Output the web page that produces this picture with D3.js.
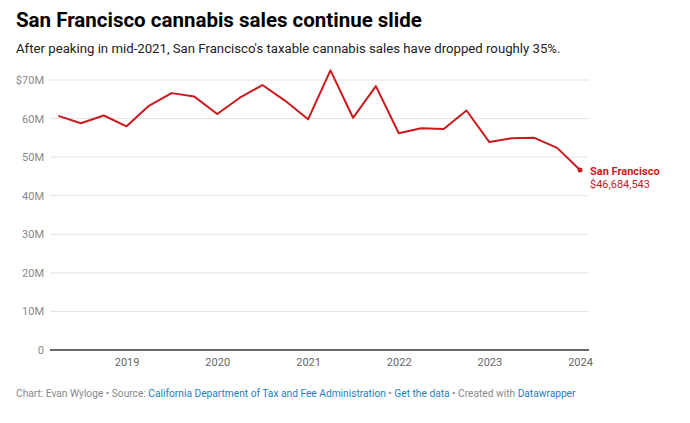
<!DOCTYPE html>
<html><head><meta charset="utf-8">
<script src="https://cdn.jsdelivr.net/npm/d3@7"></script>
<style>
body{margin:0;background:#fff;font-family:Roboto,"Noto Sans",sans-serif;}
</style></head>
<body>
<svg id="c" width="690" height="423"></svg>
<script>
const dates = ["2018-04-01","2018-07-01","2018-10-01","2019-01-01","2019-04-01","2019-07-01","2019-10-01","2020-01-01","2020-04-01","2020-07-01","2020-10-01","2021-01-01","2021-04-01","2021-07-01","2021-10-01","2022-01-01","2022-04-01","2022-07-01","2022-10-01","2023-01-01","2023-04-01","2023-07-01","2023-10-01","2024-01-01"];
const sales = [60.7,58.8,60.8,58.0,63.3,66.6,65.7,61.2,65.4,68.7,64.6,59.8,72.5,60.2,68.4,56.2,57.5,57.3,62.1,53.9,54.9,55.0,52.4,46.684543].map(v=>v*1e6);
const yTicks = [0,10e6,20e6,30e6,40e6,50e6,60e6,70e6];
const yTickLabels = ["0","10M","20M","30M","40M","50M","60M","$70M"];
const xTicks = ["2019","2020","2021","2022","2023","2024"];
const seriesName = "San Francisco";
const title = "San Francisco cannabis sales continue slide";
const subtitle = "After peaking in mid-2021, San Francisco's taxable cannabis sales have dropped roughly 35%.";

const parse = d3.timeParse("%Y-%m-%d");
const data = dates.map((d,i)=>({date:parse(d), value:sales[i]}));
const red = "#c91a1e";
const svg = d3.select("#c");

svg.append("text").attr("x",16).attr("y",27).attr("font-size",20.5).attr("font-weight",700).attr("fill","#000").text(title);
svg.append("text").attr("x",16).attr("y",53).attr("font-size",13.2).attr("fill","#222").text(subtitle);

const x = d3.scaleTime().domain([data[0].date, data[data.length-1].date]).range([58.3,580]);
const y = d3.scaleLinear().domain([0,70e6]).range([350,80]);
const gridL = 50, gridR = 589;

const g = svg.append("g");
const yAxis = d3.axisLeft(y).tickValues(yTicks).tickFormat((d,i)=>yTickLabels[i]).tickSize(0).tickPadding(6);
const ya = g.append("g").attr("transform",`translate(${gridL},0)`).call(yAxis);
ya.select(".domain").remove();
ya.selectAll("text").attr("font-size",11).attr("fill","#888").attr("font-family","Roboto").attr("x",-6);
g.append("g").selectAll("line").data(yTicks.filter(d=>d>0)).join("line")
  .attr("x1",gridL).attr("x2",gridR).attr("y1",d=>y(d)).attr("y2",d=>y(d))
  .attr("stroke","#e3e3e3").attr("stroke-width",1);
g.append("line").attr("x1",gridL).attr("x2",gridR).attr("y1",y(0)).attr("y2",y(0)).attr("stroke","#333").attr("stroke-width",1.5);

const xAxis = d3.axisBottom(x).tickValues(xTicks.map(t=>parse(t+"-01-01"))).tickFormat(d3.timeFormat("%Y")).tickSize(0).tickPadding(8);
const xa = g.append("g").attr("transform",`translate(0,${y(0)})`).call(xAxis);
xa.select(".domain").remove();
xa.selectAll("text").attr("font-size",11).attr("fill","#666").attr("font-family","Roboto");

const line = d3.line().x(d=>x(d.date)).y(d=>y(d.value));
g.append("path").datum(data).attr("d",line).attr("fill","none").attr("stroke",red).attr("stroke-width",2).attr("stroke-linejoin","round");
const last = data[data.length-1];
g.append("circle").attr("cx",x(last.date)).attr("cy",y(last.value)).attr("r",2.5).attr("fill",red);
g.append("text").attr("x",590).attr("y",175).attr("font-size",11).attr("font-weight",700).attr("fill",red).text(seriesName);
g.append("text").attr("x",590).attr("y",188).attr("font-size",11).attr("fill",red).text("$"+d3.format(",")(Math.round(last.value)));

const foot = svg.append("text").attr("x",16).attr("y",397).attr("font-size",10.2).attr("fill","#888");
const parts = [["Chart: Evan Wyloge • Source: ","#888"],["California Department of Tax and Fee Administration","#1a7fbf"],[" • ","#888"],["Get the data","#1a7fbf"],[" • Created with ","#888"],["Datawrapper","#1a7fbf"]];
parts.forEach(p=>foot.append("tspan").attr("fill",p[1]).text(p[0]));
</script>
</body></html>
